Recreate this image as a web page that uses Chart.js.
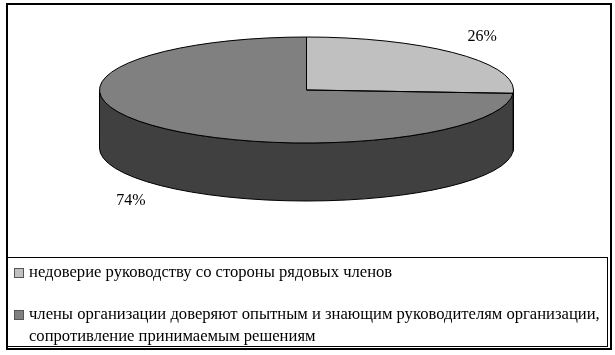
<!DOCTYPE html>
<html>
<head>
<meta charset="utf-8">
<script src="https://cdn.jsdelivr.net/npm/chart.js@4/dist/chart.umd.min.js"></script>
<style>
  html, body { margin: 0; padding: 0; background: #fff; }
  #wrap { position: relative; width: 615px; height: 355px; overflow: hidden; }
  #frame { position: absolute; box-sizing: border-box; left: 6px; top: 3px; width: 606px; height: 347px; border: 2px solid #000; }
  #chartBox { position: absolute; left: 0; top: 0; width: 615px; height: 355px; }
  #legend { position: absolute; box-sizing: border-box; left: 7px; top: 257px; width: 601px; height: 90px; border: 1px solid #000; border-top-width: 1.5px; }
  .item { position: absolute; left: 0; font-family: "Liberation Serif", "Times New Roman", serif; font-size: 16.6px; line-height: 22px; color: #000; }
  .item .mk { position: absolute; left: 6px; top: 7px; width: 8px; height: 8px; border: 1px solid #555; box-sizing: content-box; }
  .item .tx { position: absolute; left: 21px; top: 0; white-space: nowrap; }
</style>
</head>
<body>
<div id="wrap">
  <div id="frame"></div>
  <div id="chartBox"><canvas id="c"></canvas></div>
  <div id="legend"></div>
</div>
<script>
// ---- data ----
const categories = [
  'недоверие руководству со стороны рядовых членов',
  ['члены организации доверяют опытным и знающим руководителям организации,', 'сопротивление принимаемым решениям']
];
const shares = [26, 74];
const topColors = ['#C0C0C0', '#808080'];
const sideColors = ['#606060', '#404040'];

// ---- 3D pie plugin ----
const pie3d = {
  id: 'pie3d',
  geom(chart) {
    const arcs = chart.getDatasetMeta(0).data;
    const ca = chart.chartArea;
    return {
      arcs,
      cx: arcs[0].x, cy: arcs[0].y, r: arcs[0].outerRadius,
      rx: (ca.right - ca.left) / 2, ry: (ca.bottom - ca.top) / 2
    };
  },
  beforeDatasetsDraw(chart, args, opts) {
    const { arcs, cx, cy, r, rx, ry } = this.geom(chart);
    const d = opts.depth;
    const ctx = chart.ctx;
    ctx.save();
    arcs.forEach((a, i) => {
      const s = Math.max(a.startAngle, 0), e = Math.min(a.endAngle, Math.PI);
      if (e <= s) return;
      ctx.beginPath();
      ctx.ellipse(cx, cy, rx, ry, 0, s, e, false);
      ctx.lineTo(cx + rx * Math.cos(e), cy + ry * Math.sin(e) + d);
      ctx.ellipse(cx, cy + d, rx, ry, 0, e, s, true);
      ctx.closePath();
      ctx.fillStyle = sideColors[i];
      ctx.fill();
      ctx.lineWidth = 1;
      ctx.strokeStyle = '#000';
      ctx.stroke();
    });
    ctx.restore();
    ctx.save();
    ctx.translate(cx, cy);
    ctx.scale(rx / r, ry / r);
    ctx.translate(-cx, -cy);
  },
  afterDatasetsDraw(chart, args, opts) {
    const ctx = chart.ctx;
    ctx.restore();
    const { arcs, cx, cy, rx, ry } = this.geom(chart);
    const d = opts.depth;
    ctx.save();
    ctx.lineWidth = 1;
    ctx.strokeStyle = '#000';
    arcs.forEach(a => {
      ctx.beginPath();
      ctx.moveTo(cx, cy);
      ctx.ellipse(cx, cy, rx, ry, 0, a.startAngle, a.endAngle, false);
      ctx.closePath();
      ctx.stroke();
    });
    const total = shares.reduce((p, q) => p + q, 0);
    ctx.fillStyle = '#000';
    ctx.font = '16px "Liberation Serif", "Times New Roman", serif';
    ctx.textAlign = 'center';
    ctx.textBaseline = 'middle';
    arcs.forEach((a, i) => {
      const m = (a.startAngle + a.endAngle) / 2;
      const x = cx + (rx + opts.labelOffsetX) * Math.cos(m);
      let y = cy + (ry + opts.labelOffsetY) * Math.sin(m);
      if (Math.sin(m) > 0) y += d;
      ctx.fillText(Math.round(shares[i] / total * 100) + '%', x, y);
    });
    ctx.restore();
  }
};

new Chart(document.getElementById('c'), {
  type: 'pie',
  data: {
    labels: categories,
    datasets: [{ data: shares, backgroundColor: topColors, borderWidth: 0 }]
  },
  options: {
    responsive: true,
    maintainAspectRatio: false,
    animation: false,
    events: [],
    layout: { padding: { left: 99.5, right: 101.5, top: 37, bottom: 212 } },
    plugins: {
      legend: { display: false },
      tooltip: { enabled: false },
      pie3d: { depth: 58, labelOffsetX: 34, labelOffsetY: 24 }
    }
  },
  plugins: [pie3d]
});

// ---- legend (HTML) ----
const legend = document.getElementById('legend');
const rowTops = [3, 45];
categories.forEach((lab, i) => {
  const it = document.createElement('div');
  it.className = 'item';
  it.style.top = rowTops[i] + 'px';
  const mk = document.createElement('div');
  mk.className = 'mk';
  mk.style.background = topColors[i];
  const tx = document.createElement('div');
  tx.className = 'tx';
  (Array.isArray(lab) ? lab : [lab]).forEach((line, k) => {
    if (k) tx.appendChild(document.createElement('br'));
    tx.appendChild(document.createTextNode(line));
  });
  it.appendChild(mk);
  it.appendChild(tx);
  legend.appendChild(it);
});
</script>
</body>
</html>
